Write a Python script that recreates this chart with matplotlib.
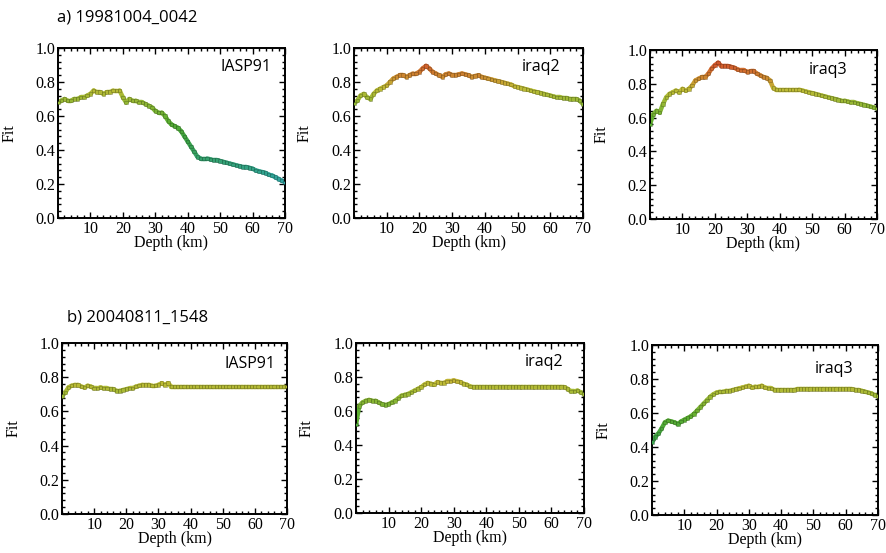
import matplotlib
matplotlib.use("Agg")
import matplotlib.pyplot as plt
import numpy as np
from matplotlib.colors import LinearSegmentedColormap
from matplotlib.collections import LineCollection
from matplotlib.ticker import MultipleLocator, AutoMinorLocator

# depth samples (km), 0..70
depth = list(range(0, 71))

# a) 19981004_0042
a_iasp91 = [0.68, 0.69, 0.70, 0.69, 0.69, 0.70, 0.70, 0.71, 0.71, 0.72,
            0.73, 0.75, 0.74, 0.74, 0.73, 0.74, 0.74, 0.75, 0.75, 0.75,
            0.71, 0.68, 0.70, 0.69, 0.69, 0.68, 0.68, 0.67, 0.66, 0.65,
            0.63, 0.62, 0.62, 0.60, 0.57, 0.55, 0.54, 0.53, 0.51, 0.48,
            0.45, 0.42, 0.39, 0.36, 0.35, 0.35, 0.35, 0.345, 0.34, 0.34,
            0.335, 0.33, 0.325, 0.32, 0.315, 0.31, 0.305, 0.30, 0.30, 0.295,
            0.29, 0.28, 0.275, 0.27, 0.265, 0.255, 0.25, 0.24, 0.23, 0.22,
            0.21]
a_iraq2 = [0.675, 0.69, 0.72, 0.73, 0.71, 0.70, 0.73, 0.75, 0.76, 0.77,
           0.78, 0.80, 0.82, 0.83, 0.84, 0.84, 0.83, 0.84, 0.85, 0.85,
           0.86, 0.88, 0.895, 0.88, 0.86, 0.85, 0.84, 0.83, 0.845, 0.85,
           0.84, 0.84, 0.845, 0.85, 0.845, 0.84, 0.83, 0.835, 0.84, 0.83,
           0.825, 0.82, 0.815, 0.81, 0.805, 0.80, 0.795, 0.79, 0.785, 0.775,
           0.77, 0.765, 0.76, 0.755, 0.75, 0.745, 0.74, 0.735, 0.73, 0.725,
           0.72, 0.715, 0.71, 0.71, 0.705, 0.705, 0.70, 0.70, 0.70, 0.69,
           0.67]
a_iraq3 = [0.56, 0.62, 0.64, 0.63, 0.68, 0.72, 0.74, 0.75, 0.76, 0.75,
           0.77, 0.76, 0.77, 0.79, 0.82, 0.83, 0.84, 0.84, 0.86, 0.89,
           0.91, 0.925, 0.905, 0.905, 0.905, 0.90, 0.895, 0.885, 0.88, 0.88,
           0.87, 0.875, 0.875, 0.86, 0.85, 0.84, 0.835, 0.82, 0.775, 0.765,
           0.765, 0.765, 0.765, 0.765, 0.765, 0.765, 0.765, 0.76, 0.755, 0.75,
           0.745, 0.74, 0.735, 0.73, 0.725, 0.72, 0.715, 0.71, 0.705, 0.70,
           0.70, 0.695, 0.69, 0.69, 0.685, 0.68, 0.675, 0.67, 0.665, 0.66,
           0.655]

# b) 20040811_1548
b_iasp91 = [0.69, 0.71, 0.74, 0.75, 0.755, 0.755, 0.745, 0.74, 0.75, 0.745,
            0.735, 0.735, 0.74, 0.735, 0.735, 0.73, 0.73, 0.72, 0.72, 0.725,
            0.73, 0.735, 0.735, 0.745, 0.75, 0.755, 0.755, 0.755, 0.75, 0.75,
            0.755, 0.765, 0.755, 0.765, 0.745, 0.745, 0.745, 0.745, 0.745, 0.745,
            0.745, 0.745, 0.745, 0.745, 0.745, 0.745, 0.745, 0.745, 0.745, 0.745,
            0.745, 0.745, 0.745, 0.745, 0.745, 0.745, 0.745, 0.745, 0.745, 0.745,
            0.745, 0.745, 0.745, 0.745, 0.745, 0.745, 0.745, 0.745, 0.745, 0.745,
            0.745]
b_iraq2 = [0.52, 0.63, 0.65, 0.66, 0.665, 0.66, 0.66, 0.65, 0.64, 0.635,
           0.64, 0.65, 0.66, 0.675, 0.69, 0.695, 0.70, 0.71, 0.72, 0.73,
           0.74, 0.755, 0.765, 0.76, 0.755, 0.77, 0.765, 0.765, 0.775, 0.775,
           0.78, 0.775, 0.77, 0.76, 0.755, 0.745, 0.74, 0.74, 0.74, 0.74,
           0.74, 0.74, 0.74, 0.74, 0.74, 0.74, 0.74, 0.74, 0.74, 0.74,
           0.74, 0.74, 0.74, 0.74, 0.74, 0.74, 0.74, 0.74, 0.74, 0.74,
           0.74, 0.74, 0.74, 0.74, 0.74, 0.73, 0.715, 0.715, 0.72, 0.71,
           0.70]
b_iraq3 = [0.43, 0.46, 0.48, 0.51, 0.545, 0.555, 0.55, 0.545, 0.535, 0.55,
           0.56, 0.57, 0.58, 0.595, 0.615, 0.635, 0.655, 0.675, 0.695, 0.71,
           0.72, 0.725, 0.725, 0.73, 0.73, 0.735, 0.74, 0.745, 0.75, 0.755,
           0.76, 0.75, 0.755, 0.755, 0.76, 0.75, 0.745, 0.745, 0.735, 0.735,
           0.735, 0.735, 0.735, 0.735, 0.735, 0.74, 0.74, 0.74, 0.74, 0.74,
           0.74, 0.74, 0.74, 0.74, 0.74, 0.74, 0.74, 0.74, 0.74, 0.74,
           0.74, 0.74, 0.74, 0.735, 0.735, 0.73, 0.725, 0.72, 0.715, 0.705,
           0.70]

models = ["IASP91", "iraq2", "iraq3"]
events = ["a) 19981004_0042", "b) 20040811_1548"]
series = [[a_iasp91, a_iraq2, a_iraq3], [b_iasp91, b_iraq2, b_iraq3]]

# colour by fit value: blue (low) -> green -> yellow -> red (high)
fit_cmap = LinearSegmentedColormap.from_list(
    "fit",
    [(0.0, "#3aa8cc"), (0.1, "#3aa8cc"), (0.25, "#2fa395"), (0.45, "#3a9f45"),
     (0.57, "#5aae30"), (0.7, "#9cb834"), (0.77, "#bfba34"), (0.83, "#cc8e30"),
     (0.91, "#d25a2c"), (1.0, "#c84028")],
)

# axes boxes in pixels (left, top, right, bottom) on an 886x553 canvas
W, H = 886, 553
boxes = [
    [(58, 48, 285, 218), (354, 48, 583, 218), (650, 50, 877, 219)],
    [(62, 343, 287, 514), (356, 343, 584, 513), (652, 345, 878, 515)],
]
label_pos = [
    [(0.94, 0.89), (0.90, 0.89), (0.87, 0.88)],
    [(0.95, 0.88), (0.91, 0.89), (0.89, 0.86)],
]

serif = "Liberation Serif"
sans = "Open Sans"
fs = 11.5

fig = plt.figure(figsize=(W / 100, H / 100), dpi=100)

for r in range(2):
    for c in range(3):
        l, t, rt, b = boxes[r][c]
        ax = fig.add_axes([l / W, 1 - b / H, (rt - l) / W, (b - t) / H])
        x = np.array(depth, dtype=float)
        y = np.array(series[r][c])
        pts = np.column_stack([x, y]).reshape(-1, 1, 2)
        segs = np.concatenate([pts[:-1], pts[1:]], axis=1)
        lc = LineCollection(segs, cmap=fit_cmap, linewidths=3.2,
                            capstyle="round", zorder=2)
        lc.set_array((y[:-1] + y[1:]) / 2)
        lc.set_clim(0, 1)
        ax.add_collection(lc)
        ax.scatter(x, y, c=y, cmap=fit_cmap, vmin=0, vmax=1, marker="s",
                   s=6, linewidths=0.5, edgecolors="#00000040", zorder=3)
        ax.set_xlim(0, 70)
        ax.set_ylim(0, 1)
        ax.xaxis.set_minor_locator(AutoMinorLocator(5))
        ax.yaxis.set_minor_locator(AutoMinorLocator(5))
        ax.set_xticks([10, 20, 30, 40, 50, 60, 70])
        ax.set_xticklabels(["10", "20", "30", "40", "50", "60", "70"],
                           family=serif, fontsize=fs)
        ax.set_yticks([0, 0.2, 0.4, 0.6, 0.8, 1.0])
        ax.set_yticklabels(["0.0", "0.2", "0.4", "0.6", "0.8", "1.0"],
                           family=serif, fontsize=fs)
        ax.tick_params(which="both", direction="in", top=True, right=True,
                       width=1.0, pad=2)
        ax.tick_params(which="major", length=4)
        ax.tick_params(which="minor", length=2)
        for sp in ax.spines.values():
            sp.set_linewidth(1.4)
        ax.set_xlabel("Depth (km)", family=serif, fontsize=fs, labelpad=-1)
        ax.set_ylabel("Fit", family=serif, fontsize=fs)
        ax.yaxis.set_label_coords(-0.18, 0.5)
        lx, ly = label_pos[r][c]
        ax.text(lx, ly, models[c], transform=ax.transAxes, ha="right",
                va="center", family=sans, fontsize=11.5)

fig.text(57 / W, 1 - 18 / H, events[0], family=sans, fontsize=12,
         ha="left", va="center")
fig.text(67 / W, 1 - 318 / H, events[1], family=sans, fontsize=12,
         ha="left", va="center")

fig.savefig("out.png", dpi=100)
